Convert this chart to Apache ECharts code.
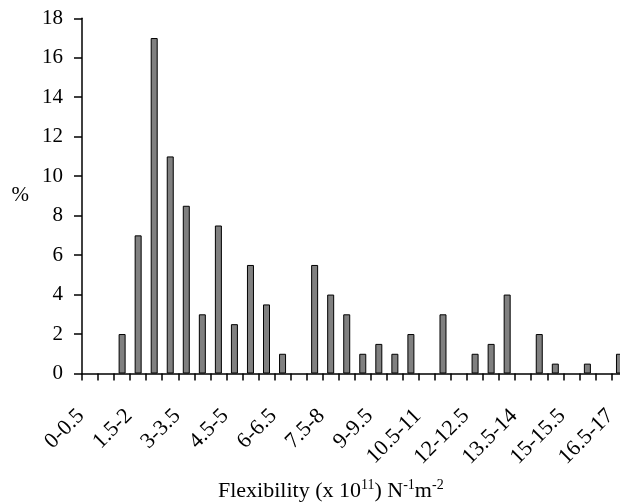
<!DOCTYPE html>
<html>
<head>
<meta charset="utf-8">
<script src="https://cdn.jsdelivr.net/npm/echarts@6/dist/echarts.min.js"></script>
<style>
html,body{margin:0;padding:0;background:#fff;overflow:hidden;width:620px;height:504px;}
#chart{position:absolute;left:0;top:0;width:660px;height:504px;}
</style>
</head>
<body>
<div id="chart"></div>
<script>
const categories = ["0-0.5","0.5-1","1-1.5","1.5-2","2-2.5","2.5-3","3-3.5","3.5-4","4-4.5","4.5-5",
  "5-5.5","5.5-6","6-6.5","6.5-7","7-7.5","7.5-8","8-8.5","8.5-9","9-9.5","9.5-10",
  "10-10.5","10.5-11","11-11.5","11.5-12","12-12.5","12.5-13","13-13.5","13.5-14","14-14.5","14.5-15",
  "15-15.5","15.5-16","16-16.5","16.5-17"];
const percentValues = [0,0,2,7,17,11,8.5,3,7.5,2.5,
  5.5,3.5,1,0,5.5,4,3,1,1.5,1,
  2,0,3,0,1,1.5,4,0,2,0.5,
  0,0.5,0,1];
const yTicks = {min:0, max:18, interval:2};
const yAxisTitle = "%";

const font = "'Liberation Serif','Times New Roman',serif";
const barData = percentValues.map(v => v === 0
  ? {value:v, itemStyle:{borderWidth:0, opacity:0}}
  : {value:v});
const chart = echarts.init(document.getElementById('chart'), null, {renderer:'canvas'});
chart.setOption({
  animation:false,
  backgroundColor:'#fff',
  grid:{left:82, top:18.3, right:32.5, bottom:130.5, containLabel:false, outerBoundsMode:'none'},
  xAxis:{
    type:'category', data:categories, boundaryGap:true,
    axisLine:{lineStyle:{color:'#000', width:1.5}},
    axisTick:{show:true, length:7, inside:false, alignWithLabel:false, interval:0, lineStyle:{color:'#000', width:1.5}},
    axisLabel:{interval:2, rotate:45, margin:30, padding:[0,13,0,0], color:'#000', fontFamily:font, fontSize:22},
    splitLine:{show:false}
  },
  yAxis:{
    type:'value', min:yTicks.min, max:yTicks.max, interval:yTicks.interval,
    name:yAxisTitle, nameLocation:'middle', nameRotate:0, nameGap:53,
    nameTextStyle:{color:'#000', fontFamily:font, fontSize:21},
    axisLine:{show:true, lineStyle:{color:'#000', width:1.5}},
    axisTick:{show:true, length:8, inside:false, lineStyle:{color:'#000', width:1.5}},
    axisLabel:{margin:19, color:'#000', fontFamily:font, fontSize:21},
    splitLine:{show:false}
  },
  graphic:[{
    type:'text', left:218, top:478,
    style:{
      text:'{n|Flexibility (x 10}{s|11}{n|) N}{s|-1}{n|m}{s|-2}',
      rich:{
        n:{fontFamily:font, fontSize:22, fill:'#000', verticalAlign:'bottom', lineHeight:24},
        s:{fontFamily:font, fontSize:14, fill:'#000', verticalAlign:'top', lineHeight:24}
      }
    }
  }],
  series:[{
    type:'bar', data:barData, barWidth:7,
    itemStyle:{color:'#808080', borderColor:'#000', borderWidth:1}
  }]
});
</script>
</body>
</html>
